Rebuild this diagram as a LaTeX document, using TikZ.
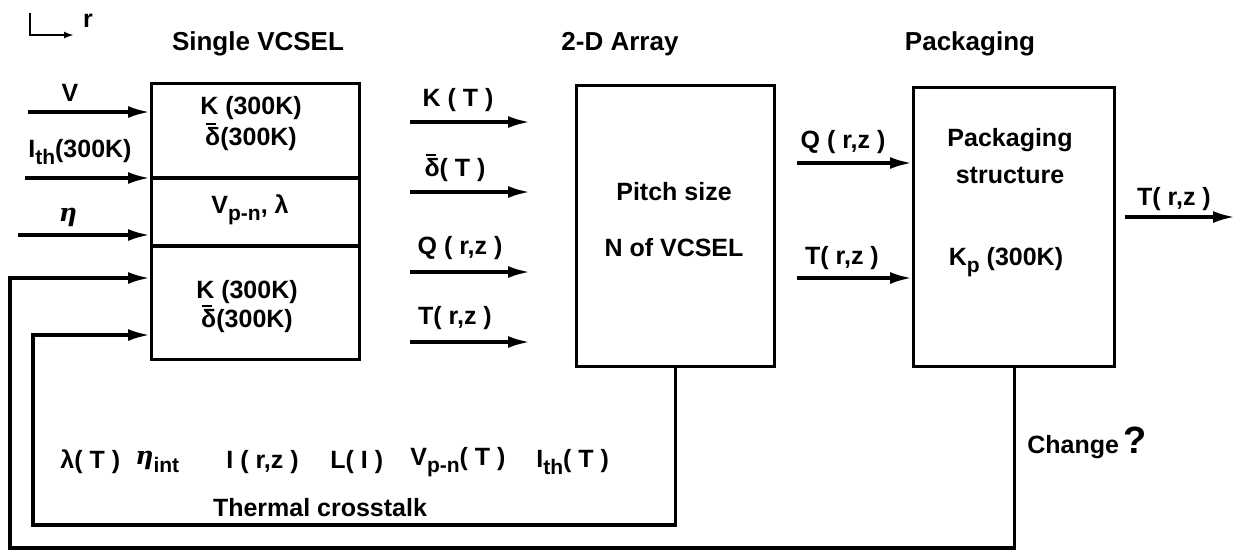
\documentclass[tikz,border=0pt]{standalone}
\usepackage{fontspec}
\setmainfont{Liberation Sans}
\newfontfamily\etafont{DejaVu Serif}
\usetikzlibrary{arrows.meta}
\newcommand{\sbs}[1]{\raisebox{-0.55ex}{\fontsize{10.5}{11}\selectfont #1}}
\newcommand{\dbar}{δ\kern-0.56em\raisebox{1.55ex}{\rule{0.4em}{0.1em}}\kern0.16em}
\newcommand{\etasym}{{\etafont\bfseries\itshape η}}
\begin{document}
\begin{tikzpicture}[x=0.5pt,y=-0.5pt,
  box/.style={draw, line width=1.7pt, inner sep=0, anchor=north west},
  ln/.style={line width=1.7pt},
  arr/.style={line width=1.7pt, -{Latex[length=11pt,width=6pt]}},
  thin/.style={line width=1pt},
  lbl/.style={font=\bfseries\fontsize{12.5}{14}\selectfont, inner sep=0},
  ttl/.style={font=\bfseries\fontsize{13}{15}\selectfont, inner sep=0}]
\useasboundingbox (0,0) rectangle (1235,553);

% axis icon
\coordinate (ax0) at (30,13);
\coordinate (ax1) at (30,35);
\coordinate (ax2) at (74,35);
\draw[thin, -{Latex[length=5pt,width=3.5pt]}] (ax0) -- (ax1) -- (ax2);
\node[lbl] (axr) at (88,21) {r};

% titles
\node[ttl] (t1) at (258,44) {Single VCSEL};
\node[ttl] (t2) at (620,44) {2-D Array};
\node[ttl] (t3) at (970,44) {Packaging};

% boxes
\node[box, minimum width=104pt, minimum height=138pt] (sv) at (150,82) {};
\node[box, minimum width=99pt, minimum height=140.5pt] (ar) at (575,84) {};
\node[box, minimum width=100.5pt, minimum height=139.5pt] (pkg) at (912,86) {};

% dividers
\coordinate (d1) at (0,178);
\coordinate (d2) at (0,246);
\draw[ln] (sv.west |- d1) -- (sv.east |- d1);
\draw[ln] (sv.west |- d2) -- (sv.east |- d2);

% single VCSEL texts
\node[lbl] (s1) at (251,108) {K (300K)};
\node[lbl] (s2) at (251,137) {\dbar(300K)};
\node[lbl] (s3) at (250,210) {V\sbs{p-n}, λ};
\node[lbl] (s4) at (247,292) {K (300K)};
\node[lbl] (s5) at (247,319) {\dbar(300K)};

% inputs
\coordinate (iv) at (28,112);
\coordinate (ii) at (25,178);
\coordinate (ie) at (18,235);
\draw[arr] (iv) -- (sv.west |- iv);
\draw[arr] (ii) -- (sv.west |- ii);
\draw[arr] (ie) -- (sv.west |- ie);
\node[lbl] (lv) at (70,93) {V};
\node[lbl] (li) at (80,152) {I\sbs{th}(300K)};
\node[lbl] (leta) at (68,217) {\etasym};

% middle arrows
\foreach \n/\y in {k/122,d/192,q/272,t/342}{
  \coordinate (m\n a) at (410,\y);
  \coordinate (m\n b) at (530,\y);
  \draw[arr] (m\n a) -- (m\n b);
}
\node[lbl] (lk) at (458,100) {K ( T )};
\node[lbl] (ld) at (455,168) {\dbar ( T )};
\node[lbl] (lq) at (460,248) {Q ( r,z )};
\node[lbl] (lt) at (455,318) {T( r,z )};

% array texts
\node[lbl] (a1) at (674,192) {Pitch size};
\node[lbl] (a2) at (674,248) {N of VCSEL};

% right inputs
\coordinate (rq) at (797,163);
\coordinate (rt) at (797,278);
\draw[arr] (rq) -- (pkg.west |- rq);
\draw[arr] (rt) -- (pkg.west |- rt);
\node[lbl] (lrq) at (843,142) {Q ( r,z )};
\node[lbl] (lrt) at (842,258) {T( r,z )};

% packaging texts
\node[lbl] (p1) at (1010,140) {Packaging};
\node[lbl] (p2) at (1010,175) {structure};
\node[lbl] (p3) at (1006,262) {K\sbs{p} (300K)};

% output
\coordinate (oa) at (1125,217);
\coordinate (ob) at (1235,217);
\draw[arr] (oa) -- (ob);
\node[lbl] (lo) at (1174,199) {T( r,z )};

% feedback loops
\coordinate (fbi) at (33,525);
\coordinate (fbit) at (0,335);
\coordinate (fbo) at (10,548);
\coordinate (fbot) at (0,278);
\draw[arr] (ar.south) |- (fbi) |- (sv.west |- fbit);
\draw[arr] (pkg.south) |- (fbo) |- (sv.west |- fbot);

% bottom texts
\node[lbl, anchor=west] (b1) at (60,462) {λ( T )};
\node[lbl, anchor=west] (b2) at (135,462) {\etasym\sbs{int}};
\node[lbl, anchor=west] (b3) at (226,462) {I ( r,z )};
\node[lbl, anchor=west] (b4) at (330,462) {L( I )};
\node[lbl, anchor=west] (b5) at (410,462) {V\sbs{p-n}( T )};
\node[lbl, anchor=west] (b6) at (536,462) {I\sbs{th}( T )};
\node[lbl] (tc) at (320,508) {Thermal crosstalk};
\node[lbl, anchor=west] (ch) at (1027,443) {Change\,{\fontsize{19}{19}\selectfont ?}};
\end{tikzpicture}
\end{document}
